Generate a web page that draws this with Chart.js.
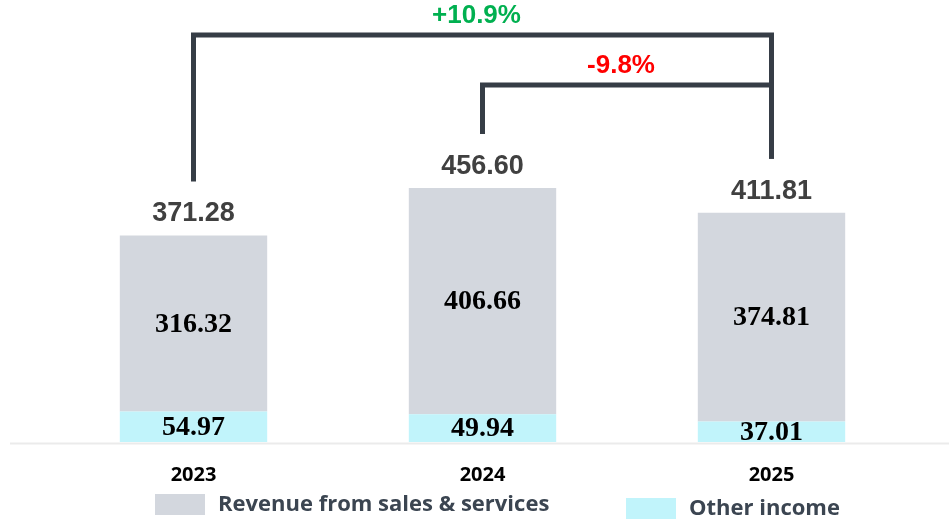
<!DOCTYPE html>
<html>
<head>
<meta charset="utf-8">
<script src="https://cdn.jsdelivr.net/npm/chart.js@4.4.0/dist/chart.umd.min.js"></script>
<style>
    body { margin: 0; background: #fff; }
    canvas { display: block; }
</style>
</head>
<body>
<canvas id="ingresosChart" width="949" height="523"></canvas>
<script>
// Datos del gráfico
const years = ['2023', '2024', '2025'];
const revenue = [316.32, 406.66, 374.81];
const otherIncome = [54.97, 49.94, 37.01];
const totals = [371.28, 456.60, 411.81];

// Variaciones (desde índice -> hasta índice)
const changeLabels = ['+10.9%', '-9.8%'];
const changeFrom = [0, 1];
const changeTo = [2, 2];
const changeColors = ['#00b050', '#ff0000'];

const legendLabels = ['Revenue from sales & services', 'Other income'];

const colorRevenue = '#d3d7de';
const colorOther = '#c1f4fb';

const labelsPlugin = {
    id: 'labelsPlugin',
    afterDatasetsDraw(chart) {
        const ctx = chart.ctx;
        const area = chart.chartArea;
        const metaOther = chart.getDatasetMeta(0);
        const metaRev = chart.getDatasetMeta(1);

        ctx.save();

        // línea base
        ctx.strokeStyle = '#ebebeb';
        ctx.lineWidth = 2;
        ctx.beginPath();
        ctx.moveTo(10, area.bottom + 1.5);
        ctx.lineTo(chart.width, area.bottom + 1.5);
        ctx.stroke();

        // valores dentro de las barras
        ctx.fillStyle = '#000';
        ctx.font = 'bold 28px "Liberation Serif", "Times New Roman", serif';
        ctx.textAlign = 'center';
        ctx.textBaseline = 'middle';
        [metaOther, metaRev].forEach(function(meta, d) {
            const values = d === 0 ? otherIncome : revenue;
            meta.data.forEach(function(bar, i) {
                ctx.fillText(values[i].toFixed(2), bar.x, (bar.y + bar.base) / 2 + 1);
            });
        });

        // totales
        ctx.fillStyle = '#404040';
        ctx.font = 'bold 27px "Liberation Sans", Arial, sans-serif';
        ctx.textBaseline = 'alphabetic';
        const bracketBottoms = [];
        metaRev.data.forEach(function(bar, i) {
            ctx.fillText(totals[i].toFixed(2), bar.x, bar.y - 14);
            bracketBottoms.push(bar.y - 14 - 20 - 20);
        });

        // corchetes de variación
        const levels = [area.top + 27, area.top + 77];
        ctx.strokeStyle = '#363d46';
        ctx.lineWidth = 5;
        ctx.lineJoin = 'miter';
        ctx.lineCap = 'butt';
        changeLabels.forEach(function(label, k) {
            const a = metaRev.data[changeFrom[k]];
            const b = metaRev.data[changeTo[k]];
            const y = levels[k];
            ctx.beginPath();
            ctx.moveTo(a.x, bracketBottoms[changeFrom[k]]);
            ctx.lineTo(a.x, y);
            ctx.lineTo(b.x, y);
            ctx.lineTo(b.x, bracketBottoms[changeTo[k]]);
            ctx.stroke();

            ctx.fillStyle = changeColors[k];
            ctx.font = 'bold 26px "Liberation Sans", Arial, sans-serif';
            ctx.textBaseline = 'middle';
            ctx.fillText(label, (a.x + b.x) / 2 - 6, y - 19);
        });

        // leyenda
        const items = [
            { color: colorRevenue, box: [155, 494], text: [218, 505] },
            { color: colorOther, box: [626, 498], text: [689, 509] }
        ];
        ctx.font = 'bold 22px "Open Sans", Lato, sans-serif';
        ctx.textAlign = 'left';
        ctx.textBaseline = 'middle';
        items.forEach(function(it, i) {
            ctx.fillStyle = it.color;
            ctx.fillRect(it.box[0], it.box[1], 50, 21);
            ctx.fillStyle = '#3b4551';
            ctx.fillText(legendLabels[i], it.text[0], it.text[1]);
        });

        ctx.restore();
    }
};

document.addEventListener('DOMContentLoaded', function() {
    const ctx = document.getElementById('ingresosChart').getContext('2d');
    new Chart(ctx, {
        type: 'bar',
        data: {
            labels: years,
            datasets: [{
                label: legendLabels[1],
                data: otherIncome,
                backgroundColor: colorOther,
                barPercentage: 1,
                categoryPercentage: 0.51
            }, {
                label: legendLabels[0],
                data: revenue,
                backgroundColor: colorRevenue,
                barPercentage: 1,
                categoryPercentage: 0.51
            }]
        },
        options: {
            responsive: false,
            animation: false,
            layout: {
                padding: { left: 49, right: 33, top: 8, bottom: 23 }
            },
            plugins: {
                legend: { display: false },
                tooltip: { enabled: false }
            },
            scales: {
                x: {
                    stacked: true,
                    grid: { display: false },
                    border: { display: false },
                    ticks: {
                        padding: 13,
                        color: '#000',
                        font: { family: 'Open Sans', size: 20, weight: 'bold' }
                    }
                },
                y: {
                    stacked: true,
                    display: false,
                    beginAtZero: true,
                    max: 780
                }
            }
        },
        plugins: [labelsPlugin]
    });
});
</script>
</body>
</html>
